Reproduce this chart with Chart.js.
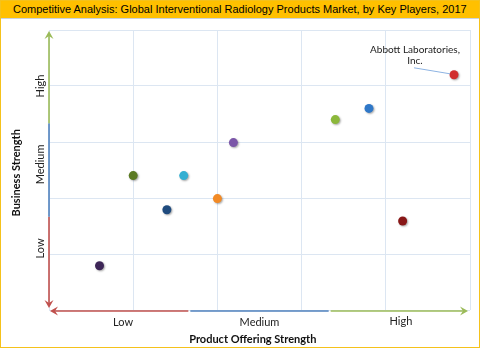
<!DOCTYPE html>
<html>
<head>
<meta charset="utf-8">
<script src="https://cdn.jsdelivr.net/npm/chart.js@4.4.1/dist/chart.umd.min.js"></script>
<style>
  html, body { margin: 0; padding: 0; background: #fff; }
  #wrap { width: 480px; height: 348px; box-sizing: border-box; border: 1px solid #f5c21b; position: relative; }
  #title { height: 17px; background: #ffc000; font: 11px "Liberation Sans", Arial, sans-serif; color: #000;
           line-height: 17px; padding-left: 12px; white-space: nowrap; border-bottom: 1px solid #c9d3e0; }
  #box { position: absolute; left: 0; top: 18px; width: 478px; height: 328px; }
</style>
</head>
<body>
<div id="wrap">
  <div id="title">Competitive Analysis: Global Interventional Radiology Products Market, by Key Players, 2017</div>
  <div id="box"><canvas id="chart"></canvas></div>
</div>
<script>
// Player positions (0-5 scale on both axes)
const players = ['Player 1', 'Player 2', 'Player 3', 'Player 4', 'Player 5', 'Player 6', 'Player 7', 'Player 8', 'Player 9', 'Abbott Laboratories, Inc.'];
const productStrength = [0.60, 1.00, 1.40, 1.60, 2.00, 2.19, 3.40, 3.80, 4.20, 4.81];
const businessStrength = [0.79, 2.40, 1.79, 2.40, 1.99, 2.99, 3.40, 3.60, 1.59, 4.20];
const pointColors = ['#3d2657', '#5b7a23', '#1f4b7e', '#33afd2', '#f28a25', '#7b56a8', '#8cb83b', '#2f78c8', '#881717', '#d12e2e'];
const levels = ['Low', 'Medium', 'High'];
const xTitle = 'Product Offering Strength';
const yTitle = 'Business Strength';
const calloutLines = ['Abbott Laboratories,', 'Inc.'];

const RED = '#c0504d', BLUE = '#4f81bd', GREEN = '#9bbb59';

function arrowHead(ctx, x, y, dx, dy, color) {
    // open-back arrow, tip at (x,y), pointing along (dx,dy)
    const len = 8, half = 4.5, notch = 3;
    const px = -dy, py = dx;
    ctx.fillStyle = color;
    ctx.beginPath();
    ctx.moveTo(x, y);
    ctx.lineTo(x - dx * len + px * half, y - dy * len + py * half);
    ctx.lineTo(x - dx * (len - notch), y - dy * (len - notch));
    ctx.lineTo(x - dx * len - px * half, y - dy * len - py * half);
    ctx.closePath();
    ctx.fill();
}

const decor = {
    id: 'decor',
    beforeDatasetsDraw(chart) {
        const { ctx, scales: { x, y } } = chart;
        const x0 = x.getPixelForValue(0), x1 = x.getPixelForValue(5);
        const y0 = y.getPixelForValue(0), y1 = y.getPixelForValue(5);
        const ax = x0, ay = y0 + 1;
        const cols = [RED, BLUE, GREEN];
        ctx.save();
        ctx.lineWidth = 1.6;
        // y axis (bottom to top)
        for (let i = 0; i < 3; i++) {
            const a = y.getPixelForValue(i * 5 / 3), b = y.getPixelForValue((i + 1) * 5 / 3);
            ctx.strokeStyle = cols[i];
            ctx.beginPath();
            ctx.moveTo(ax, i === 0 ? a - 4 : a);
            ctx.lineTo(ax, i === 2 ? b + 5 : b);
            ctx.stroke();
        }
        arrowHead(ctx, ax, y1 + 1, 0, -1, GREEN);
        arrowHead(ctx, ax, y0 - 2, 0, 1, RED);
        // x axis (left to right)
        for (let i = 0; i < 3; i++) {
            const a = x.getPixelForValue(i * 5 / 3), b = x.getPixelForValue((i + 1) * 5 / 3);
            ctx.strokeStyle = cols[i];
            ctx.beginPath();
            ctx.moveTo(i === 0 ? a + 5 : a + 1, ay);
            ctx.lineTo(i === 2 ? b - 5 : b - 1, ay);
            ctx.stroke();
        }
        arrowHead(ctx, x0 + 1, ay, -1, 0, RED);
        arrowHead(ctx, x1 - 2, ay, 1, 0, GREEN);
        ctx.restore();
    },
    afterDraw(chart) {
        const { ctx, scales: { x, y } } = chart;
        const yAt = [1.1, 2.6, 4.0];
        const xAt = [0.88, 2.5, 4.18];
        ctx.save();
        ctx.fillStyle = '#222';
        ctx.textAlign = 'center';
        ctx.textBaseline = 'middle';
        ctx.font = '11px Lato, "Open Sans", sans-serif';
        levels.forEach((t, i) => {
            ctx.fillText(t, x.getPixelForValue(xAt[i]), y.getPixelForValue(0) + 12 - (i === 2 ? 1 : 0));
        });
        levels.forEach((t, i) => {
            ctx.save();
            ctx.translate(x.getPixelForValue(0) - 9, y.getPixelForValue(yAt[i]));
            ctx.rotate(-Math.PI / 2);
            ctx.fillText(t, 0, 0);
            ctx.restore();
        });
        ctx.font = 'bold 11px Lato, "Open Sans", sans-serif';
        ctx.fillStyle = '#111';
        ctx.fillText(xTitle, x.getPixelForValue(2.42), y.getPixelForValue(0) + 29);
        ctx.save();
        ctx.translate(15, y.getPixelForValue(2.45));
        ctx.rotate(-Math.PI / 2);
        ctx.fillText(yTitle, 0, 0);
        ctx.restore();
        // callout for the last player
        const n = productStrength.length - 1;
        const px = x.getPixelForValue(productStrength[n]), py = y.getPixelForValue(businessStrength[n]);
        ctx.strokeStyle = '#8db3e2';
        ctx.lineWidth = 1;
        ctx.beginPath();
        ctx.moveTo(px - 40, py - 7);
        ctx.lineTo(px - 4, py - 1);
        ctx.stroke();
        ctx.font = '10px Lato, "Open Sans", sans-serif';
        ctx.fillStyle = '#222';
        calloutLines.forEach((t, i) => ctx.fillText(t, px - 39, py - 25 + i * 11));
        ctx.restore();
    },
    beforeDatasetDraw(chart) {
        const ctx = chart.ctx;
        ctx.save();
        ctx.shadowColor = 'rgba(0,0,0,0.35)';
        ctx.shadowBlur = 2;
        ctx.shadowOffsetX = 1;
        ctx.shadowOffsetY = 1;
    },
    afterDatasetDraw(chart) {
        chart.ctx.restore();
    }
};

new Chart(document.getElementById('chart'), {
    type: 'scatter',
    data: {
        datasets: [{
            label: 'Players',
            data: productStrength.map((v, i) => ({ x: v, y: businessStrength[i] })),
            pointBackgroundColor: pointColors,
            pointBorderColor: pointColors,
            pointRadius: 4.5,
            pointBorderWidth: 0
        }]
    },
    options: {
        responsive: true,
        maintainAspectRatio: false,
        animation: false,
        layout: { padding: { left: 48, right: 9, top: 11, bottom: 37 } },
        plugins: { legend: { display: false }, tooltip: { enabled: false } },
        scales: {
            x: {
                type: 'linear', min: 0, max: 5,
                ticks: { display: false, stepSize: 1 },
                grid: { color: '#dce6f2', lineWidth: 1, drawTicks: false },
                border: { display: false }
            },
            y: {
                type: 'linear', min: 0, max: 5,
                ticks: { display: false, stepSize: 1 },
                grid: { color: '#dce6f2', lineWidth: 1, drawTicks: false },
                border: { display: false }
            }
        }
    },
    plugins: [decor]
});
</script>
</body>
</html>
